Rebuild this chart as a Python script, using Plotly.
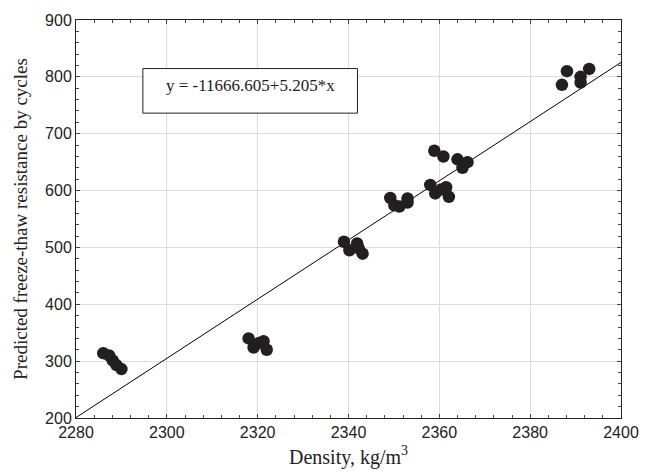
import plotly.graph_objects as go

density = [2286, 2287.3, 2288.1, 2288.9, 2290,
           2318, 2319.1, 2320.3, 2321.3, 2322,
           2339, 2340.2, 2341.9, 2342.2, 2343.1,
           2349.2, 2350.1, 2351.2, 2353, 2353,
           2358.9, 2360.9, 2364, 2366.2, 2365.1,
           2358, 2359.1, 2360.4, 2361.5, 2362.1,
           2388.1, 2387, 2391.1, 2391.1, 2393]
resistance = [314, 310, 301, 293, 286,
              340, 324, 332, 335, 320,
              510, 495, 507, 499, 489,
              587, 574, 572, 579, 586,
              670, 660, 655, 650, 640,
              610, 595, 602, 606, 589,
              810, 786, 800, 790, 814]

intercept = -11666.605
slope = 5.205
x_range = [2280, 2400]
y_range = [200, 900]
x_ticks = [2280, 2300, 2320, 2340, 2360, 2380, 2400]
y_ticks = [200, 300, 400, 500, 600, 700, 800, 900]
equation = "y = -11666.605+5.205*x"

line_x = x_range
line_y = [intercept + slope * v for v in line_x]

serif = "Liberation Serif, Times New Roman, serif"
sans = "Liberation Sans, Arial, sans-serif"

fig = go.Figure()
fig.add_trace(go.Scatter(x=line_x, y=line_y, mode="lines",
                         line=dict(color="black", width=1), showlegend=False,
                         hoverinfo="skip"))
fig.add_trace(go.Scatter(x=density, y=resistance, mode="markers",
                         marker=dict(color="#231f20", size=12.5, line=dict(width=0)),
                         showlegend=False))

axis_common = dict(
    showgrid=True, gridcolor="#dcdcdc", gridwidth=1,
    showline=True, linecolor="#222", linewidth=1, mirror="allticks",
    ticks="inside", ticklen=4, tickcolor="#444",
    zeroline=False,
    tickfont=dict(family=sans, size=16, color="#222"),
)

fig.update_xaxes(range=x_range, tickvals=x_ticks,
                 title=dict(text="Density, kg/m<sup>3</sup>",
                            font=dict(family=serif, size=20, color="#222"),
                            standoff=9),
                 minor=dict(dtick=4, ticks="inside", ticklen=3, tickcolor="#444", showgrid=False),
                 **axis_common)
fig.update_yaxes(range=y_range, tickvals=y_ticks,
                 title=dict(text="Predicted freeze-thaw resistance by cycles",
                            font=dict(family=serif, size=19, color="#222"),
                            standoff=12),
                 minor=dict(dtick=20, ticks="inside", ticklen=3, tickcolor="#444", showgrid=False),
                 **axis_common)

fig.add_shape(type="rect", xref="paper", yref="paper",
              x0=0.1227, x1=0.5165, y0=0.766, y1=0.878,
              line=dict(color="#222", width=1), fillcolor="white", layer="above")
fig.add_annotation(xref="paper", yref="paper", x=0.3195, y=0.836,
                   xanchor="center", yanchor="middle",
                   text=equation, showarrow=False,
                   font=dict(family=serif, size=17, color="#222"))

fig.update_layout(width=651, height=476,
                  margin=dict(l=76, r=29, t=19, b=55),
                  plot_bgcolor="white", paper_bgcolor="white")

fig.write_html("out.html", config={"displayModeBar": False},
               post_script="document.body.style.margin='0px';")
